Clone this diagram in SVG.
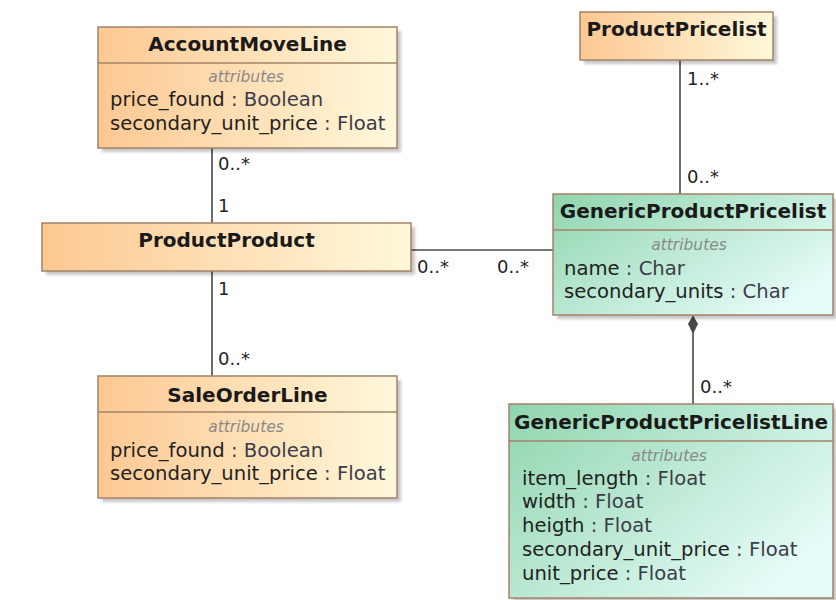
<svg xmlns="http://www.w3.org/2000/svg" width="836" height="600" viewBox="0 0 836 600">
<defs>
<linearGradient id="gOr" x1="0" y1="0" x2="1" y2="0">
<stop offset="0" stop-color="#fdc892"/>
<stop offset="1" stop-color="#fff8da"/>
</linearGradient>
<linearGradient id="gGr" x1="0" y1="0" x2="1" y2="0.7">
<stop offset="0" stop-color="#8fd5ae"/>
<stop offset="1" stop-color="#e6fcf8"/>
</linearGradient>
<filter id="sh" x="-10%" y="-10%" width="120%" height="130%">
<feGaussianBlur stdDeviation="1.5"/>
</filter>
</defs>
<style>
.box{stroke:#a3836a;stroke-width:1.5}
.or{fill:url(#gOr)}
.gr{fill:url(#gGr)}
.shadow{fill:#000;opacity:0.22;filter:url(#sh)}
.div{stroke:#a3836a;stroke-width:1.5}
.title{font-family:"DejaVu Sans",sans-serif;font-size:20px;font-weight:bold;fill:#1a1a1a;text-anchor:middle}
.st{font-family:"DejaVu Sans",sans-serif;font-size:15.5px;font-style:italic;fill:#8a8a8a;text-anchor:middle}
.attr{font-family:"DejaVu Sans",sans-serif;font-size:19.6px;fill:#222}
.ty{fill:#3c3c4a}
.mult{font-family:"DejaVu Sans",sans-serif;font-size:18px;fill:#222}
.conn{stroke:#484848;stroke-width:1.6;fill:none}
</style>
<rect width="836" height="600" fill="#fff"/>

<g id="connectors">
<line class="conn" x1="212" y1="148" x2="212" y2="223"/>
<line class="conn" x1="212" y1="271" x2="212" y2="376"/>
<line class="conn" x1="411" y1="250" x2="553" y2="250"/>
<line class="conn" x1="680" y1="60" x2="680" y2="194"/>
<line class="conn" x1="693" y1="332" x2="693" y2="404"/>
<polygon points="693,316 697.5,324 693,333 688.5,324" fill="#484848" stroke="#484848" stroke-width="1"/>
<text class="mult" x="218" y="170">0..*</text>
<text class="mult" x="218" y="212">1</text>
<text class="mult" x="218" y="295">1</text>
<text class="mult" x="218" y="365">0..*</text>
<text class="mult" x="417" y="273">0..*</text>
<text class="mult" x="497" y="273">0..*</text>
<text class="mult" x="687" y="85">1..*</text>
<text class="mult" x="687" y="183">0..*</text>
<text class="mult" x="700" y="393">0..*</text>
</g>

<g id="AccountMoveLine">
<rect class="shadow" x="102" y="31" width="299" height="121"/>
<rect class="box or" x="98" y="27" width="299" height="121"/>
<line class="div" x1="98" y1="63" x2="397" y2="63"/>
<text class="title" x="247.5" y="51">AccountMoveLine</text>
<text class="st" x="246" y="82">attributes</text>
<text class="attr" x="110" y="106">price_found <tspan class="ty">: Boolean</tspan></text>
<text class="attr" x="110" y="130">secondary_unit_price <tspan class="ty">: Float</tspan></text>
</g>

<g id="ProductProduct">
<rect class="shadow" x="46" y="227" width="369" height="48"/>
<rect class="box or" x="42" y="223" width="369" height="48"/>
<text class="title" x="226.5" y="247">ProductProduct</text>
</g>

<g id="SaleOrderLine">
<rect class="shadow" x="102" y="380" width="299" height="122"/>
<rect class="box or" x="98" y="376" width="299" height="122"/>
<line class="div" x1="98" y1="412" x2="397" y2="412"/>
<text class="title" x="247.5" y="402">SaleOrderLine</text>
<text class="st" x="246" y="432">attributes</text>
<text class="attr" x="110" y="457">price_found <tspan class="ty">: Boolean</tspan></text>
<text class="attr" x="110" y="480">secondary_unit_price <tspan class="ty">: Float</tspan></text>
</g>

<g id="ProductPricelist">
<rect class="shadow" x="584" y="16" width="193" height="48"/>
<rect class="box or" x="580" y="12" width="193" height="48"/>
<text class="title" x="676.5" y="36">ProductPricelist</text>
</g>

<g id="GenericProductPricelist">
<rect class="shadow" x="557" y="198" width="280" height="121"/>
<rect class="box gr" x="553" y="194" width="280" height="121"/>
<line class="div" x1="553" y1="230" x2="833" y2="230"/>
<text class="title" x="693" y="218">GenericProductPricelist</text>
<text class="st" x="689" y="250">attributes</text>
<text class="attr" x="564" y="275">name <tspan class="ty">: Char</tspan></text>
<text class="attr" x="564" y="298">secondary_units <tspan class="ty">: Char</tspan></text>
</g>

<g id="GenericProductPricelistLine">
<rect class="shadow" x="513" y="408" width="324" height="194"/>
<rect class="box gr" x="509" y="404" width="324" height="194"/>
<line class="div" x1="509" y1="441" x2="833" y2="441"/>
<text class="title" x="671" y="429">GenericProductPricelistLine</text>
<text class="st" x="669" y="461">attributes</text>
<text class="attr" x="522" y="485">item_length <tspan class="ty">: Float</tspan></text>
<text class="attr" x="522" y="508">width <tspan class="ty">: Float</tspan></text>
<text class="attr" x="522" y="532">heigth <tspan class="ty">: Float</tspan></text>
<text class="attr" x="522" y="556">secondary_unit_price <tspan class="ty">: Float</tspan></text>
<text class="attr" x="522" y="580">unit_price <tspan class="ty">: Float</tspan></text>
</g>
</svg>
